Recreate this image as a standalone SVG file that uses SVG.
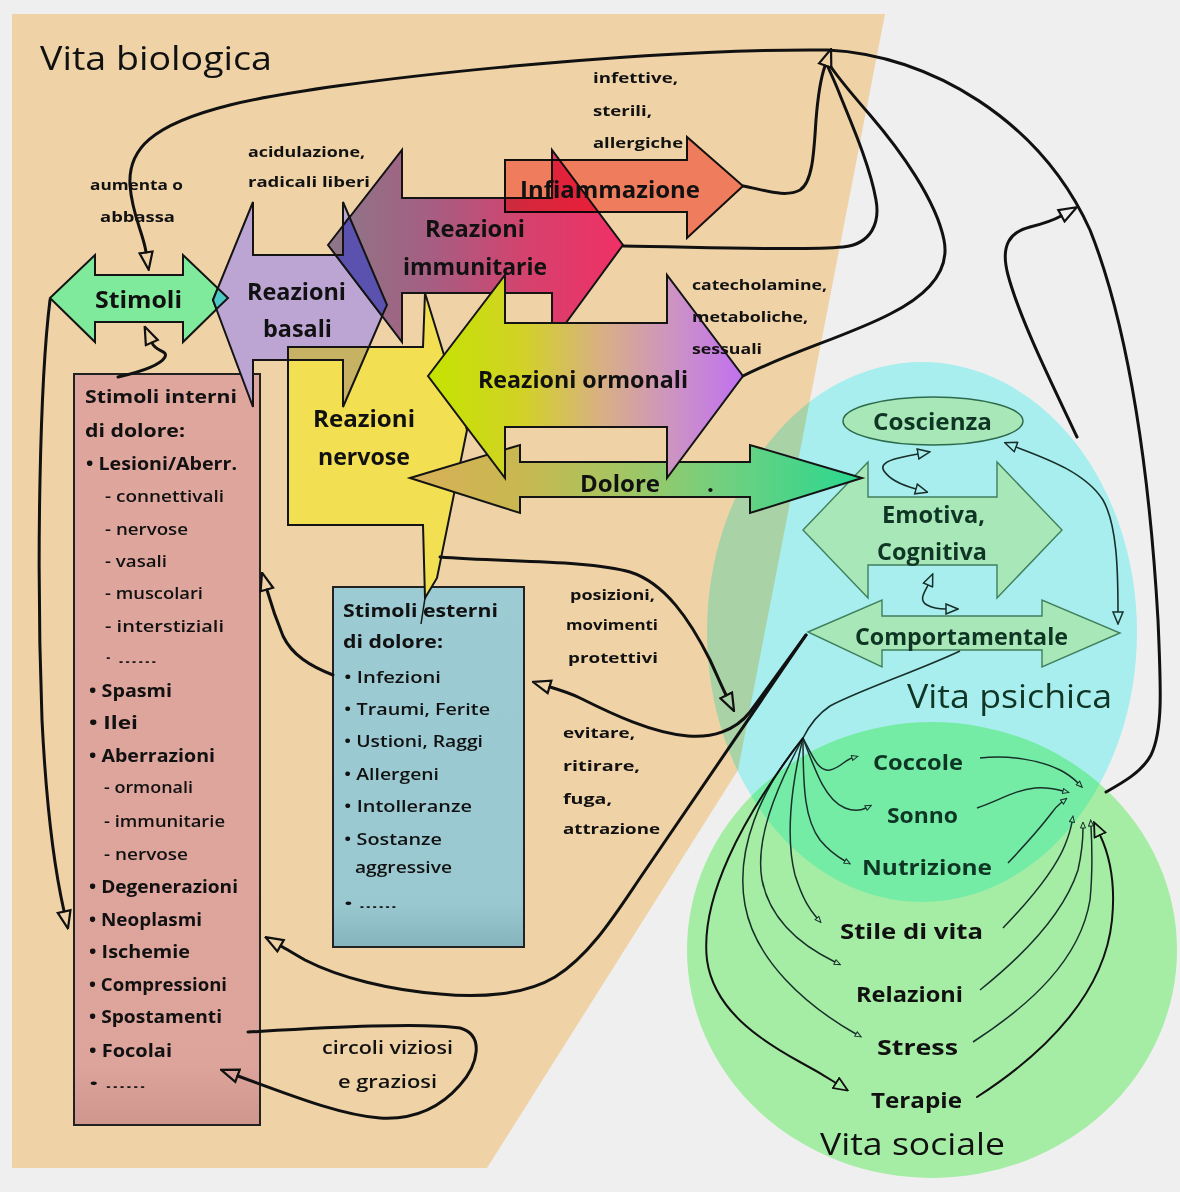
<svg xmlns="http://www.w3.org/2000/svg" width="1180" height="1192" viewBox="0 0 1180 1192">
<defs>
<style>
text{font-family:'Open Sans','DejaVu Sans',sans-serif;fill:#111}
.big{font-size:24px;font-weight:700}
.soc{font-size:22px;font-weight:700}
.ttl{font-size:32px;font-weight:500}
.sm{font-size:15px;font-weight:700}
.li{font-size:17px;font-weight:700}
.sub{font-size:17px;font-weight:600}
.dots{font-size:12px;font-weight:600}
.psy{fill:#0f3524}
.shape{stroke:#141414;stroke-width:2;stroke-linejoin:miter}
.pshape{fill:#a8e8b8;stroke:#3f7f5c;stroke-width:1.4}
.ln{fill:none;stroke:#111;stroke-width:3;stroke-linecap:round}
.thin{fill:none;stroke:#17302a;stroke-width:1.5}
.mid{fill:none;stroke:#17302a;stroke-width:1.6}
</style>
<linearGradient id="gImm" gradientUnits="userSpaceOnUse" x1="328" y1="0" x2="623" y2="0">
<stop offset="0" stop-color="#8c7888"/><stop offset="0.35" stop-color="#a65e82"/><stop offset="0.7" stop-color="#d8406c"/><stop offset="1" stop-color="#f03066"/>
</linearGradient>
<linearGradient id="gOrm" gradientUnits="userSpaceOnUse" x1="428" y1="0" x2="743" y2="0">
<stop offset="0" stop-color="#c4e400"/><stop offset="0.3" stop-color="#d2d226"/><stop offset="0.55" stop-color="#d8b084"/><stop offset="0.8" stop-color="#cc90c8"/><stop offset="1" stop-color="#c070f0"/>
</linearGradient>
<linearGradient id="gDol" gradientUnits="userSpaceOnUse" x1="410" y1="0" x2="862" y2="0">
<stop offset="0" stop-color="#d8b058"/><stop offset="0.25" stop-color="#c8b850"/><stop offset="0.45" stop-color="#a8c460"/><stop offset="0.7" stop-color="#70d080"/><stop offset="1" stop-color="#28d890"/>
</linearGradient>
<linearGradient id="gInt" x1="0" y1="0" x2="0" y2="1">
<stop offset="0" stop-color="#dfa69e"/><stop offset="0.92" stop-color="#dda49c"/><stop offset="1" stop-color="#cf968e"/>
</linearGradient>
<linearGradient id="gEst" x1="0" y1="0" x2="0" y2="1">
<stop offset="0" stop-color="#9ccbd3"/><stop offset="0.88" stop-color="#99c8d0"/><stop offset="1" stop-color="#86b4be"/>
</linearGradient>
<marker id="ah" viewBox="0 0 20 16" refX="1" refY="8" markerWidth="20" markerHeight="16" markerUnits="userSpaceOnUse" orient="auto">
<path d="M1.5,1.5 L19,8 L1.5,14.5 Z" fill="none" stroke="#111" stroke-width="2.2"/>
</marker>
<marker id="am" viewBox="0 0 14 12" refX="1" refY="6" markerWidth="14" markerHeight="12" markerUnits="userSpaceOnUse" orient="auto-start-reverse">
<path d="M1,1 L13,6 L1,11 Z" fill="none" stroke="#17302a" stroke-width="1.5"/>
</marker>
<marker id="ab" viewBox="0 0 16 14" refX="1" refY="7" markerWidth="16" markerHeight="14" markerUnits="userSpaceOnUse" orient="auto">
<path d="M1,1 L15,7 L1,13 Z" fill="none" stroke="#111" stroke-width="1.8"/>
</marker>
<marker id="as" viewBox="0 0 8 7" refX="1" refY="3.5" markerWidth="8" markerHeight="7" markerUnits="userSpaceOnUse" orient="auto">
<path d="M1,1 L7,3.5 L1,6 Z" fill="none" stroke="#17302a" stroke-width="1"/>
</marker>
</defs>

<rect width="1180" height="1192" fill="#efefef"/>

<g id="vita-biologica">
<polygon points="12,14 885,14 738,770 487,1168 12,1168" fill="#efd3a7"/>
<text class="ttl" x="40" y="70" textLength="232" lengthAdjust="spacingAndGlyphs">Vita biologica</text>
</g>
<g id="vita-psichica">
<ellipse cx="922" cy="632" rx="215" ry="270" fill="#b4feff" style="mix-blend-mode:multiply"/>
</g>
<g id="vita-sociale">
<ellipse cx="932" cy="950" rx="245" ry="228" fill="#b0fdb0" style="mix-blend-mode:multiply"/>
</g>

<g id="stimoli-interni">
<rect x="74" y="374" width="186" height="751" fill="url(#gInt)" stroke="#222" stroke-width="2"/>
<text class="li" x="85" y="403" textLength="152" lengthAdjust="spacingAndGlyphs">Stimoli interni</text>
<text class="li" x="85" y="437" textLength="100" lengthAdjust="spacingAndGlyphs">di dolore:</text>
<text class="li" x="86" y="470" textLength="151" lengthAdjust="spacingAndGlyphs">• Lesioni/Aberr.</text>
<text class="sub" x="105" y="502" textLength="119" lengthAdjust="spacingAndGlyphs">- connettivali</text>
<text class="sub" x="105" y="535" textLength="83" lengthAdjust="spacingAndGlyphs">- nervose</text>
<text class="sub" x="105" y="567" textLength="62" lengthAdjust="spacingAndGlyphs">- vasali</text>
<text class="sub" x="105" y="599" textLength="98" lengthAdjust="spacingAndGlyphs">- muscolari</text>
<text class="sub" x="105" y="632" textLength="119" lengthAdjust="spacingAndGlyphs">- interstiziali</text>
<text class="dots" x="105" y="663" textLength="52" lengthAdjust="spacingAndGlyphs">· ……</text>
<text class="li" x="89" y="697" textLength="83" lengthAdjust="spacingAndGlyphs">• Spasmi</text>
<text class="li" x="89" y="729" textLength="49" lengthAdjust="spacingAndGlyphs">• Ilei</text>
<text class="li" x="89" y="762" textLength="126" lengthAdjust="spacingAndGlyphs">• Aberrazioni</text>
<text class="sub" x="104" y="793" textLength="89" lengthAdjust="spacingAndGlyphs">- ormonali</text>
<text class="sub" x="104" y="827" textLength="121" lengthAdjust="spacingAndGlyphs">- immunitarie</text>
<text class="sub" x="104" y="860" textLength="84" lengthAdjust="spacingAndGlyphs">- nervose</text>
<text class="li" x="89" y="893" textLength="149" lengthAdjust="spacingAndGlyphs">• Degenerazioni</text>
<text class="li" x="89" y="926" textLength="113" lengthAdjust="spacingAndGlyphs">• Neoplasmi</text>
<text class="li" x="89" y="958" textLength="101" lengthAdjust="spacingAndGlyphs">• Ischemie</text>
<text class="li" x="89" y="991" textLength="138" lengthAdjust="spacingAndGlyphs">• Compressioni</text>
<text class="li" x="89" y="1023" textLength="133" lengthAdjust="spacingAndGlyphs">• Spostamenti</text>
<text class="li" x="89" y="1057" textLength="83" lengthAdjust="spacingAndGlyphs">• Focolai</text>
<text class="dots" x="89" y="1088" textLength="57" lengthAdjust="spacingAndGlyphs">• ……</text>
</g>

<g id="stimoli-esterni">
<rect x="333" y="587" width="191" height="360" fill="url(#gEst)" stroke="#222" stroke-width="2"/>
<text class="li" x="343" y="617" textLength="155" lengthAdjust="spacingAndGlyphs">Stimoli esterni</text>
<text class="li" x="343" y="648" textLength="100" lengthAdjust="spacingAndGlyphs">di dolore:</text>
<text class="sub" x="344" y="683" textLength="97" lengthAdjust="spacingAndGlyphs">• Infezioni</text>
<text class="sub" x="344" y="715" textLength="146" lengthAdjust="spacingAndGlyphs">• Traumi, Ferite</text>
<text class="sub" x="344" y="747" textLength="139" lengthAdjust="spacingAndGlyphs">• Ustioni, Raggi</text>
<text class="sub" x="344" y="780" textLength="95" lengthAdjust="spacingAndGlyphs">• Allergeni</text>
<text class="sub" x="344" y="812" textLength="128" lengthAdjust="spacingAndGlyphs">• Intolleranze</text>
<text class="sub" x="344" y="845" textLength="98" lengthAdjust="spacingAndGlyphs">• Sostanze</text>
<text class="sub" x="355" y="873" textLength="97" lengthAdjust="spacingAndGlyphs">aggressive</text>
<text class="dots" x="344" y="908" textLength="53" lengthAdjust="spacingAndGlyphs">• ……</text>
</g>

<g id="stimoli">
<polygon class="shape" points="50,298 95,255 95,275 183,275 183,255 228,298 183,342 183,322 95,322 95,342" fill="#80ea9c"/>
<text class="big" x="95" y="308" textLength="87" lengthAdjust="spacingAndGlyphs">Stimoli</text>
</g>

<g id="reazioni-basali">
<polygon class="shape" points="213,300 253,202 253,255 343,255 343,202 387,305 343,407 343,360 253,360 253,407" fill="#bda5d3"/>
<polygon class="shape" points="213,300 217.8,288.2 228,298 216.5,309" fill="#4ec8c4"/>
<text class="big" x="247" y="300" textLength="99" lengthAdjust="spacingAndGlyphs">Reazioni</text>
<text class="big" x="263" y="337" textLength="69" lengthAdjust="spacingAndGlyphs">basali</text>
</g>

<g id="reazioni-immunitarie">
<polygon class="shape" points="328,245 402,150 402,198 552,198 552,150 623,245 552,342 552,293 402,293 402,342" fill="url(#gImm)"/>
<polygon class="shape" points="335.6,255 343,255 343,225.7 349.5,217 387,305 382,315.8" fill="#5a52ae"/>
<text class="big" x="425" y="237" textLength="100" lengthAdjust="spacingAndGlyphs">Reazioni</text>
<text class="big" x="403" y="275" textLength="144" lengthAdjust="spacingAndGlyphs">immunitarie</text>
</g>

<g id="reazioni-nervose">
<polygon class="shape" points="288,347 423,347 425,293 467,430 437,578 425,598 423,525 288,525" fill="#f2e052"/>
<polygon class="shape" points="288,347 368.9,347 343,407 343,360 288,360" fill="#c6b262"/>
<line x1="425" y1="598" x2="421" y2="624" stroke="#141414" stroke-width="1.5"/>
<text class="big" x="313" y="427" textLength="102" lengthAdjust="spacingAndGlyphs">Reazioni</text>
<text class="big" x="318" y="465" textLength="92" lengthAdjust="spacingAndGlyphs">nervose</text>
</g>

<g id="infiammazione">
<polygon class="shape" points="505,160 687,160 687,137 743,186 687,238 687,212 505,212" fill="#ff968c" style="mix-blend-mode:multiply"/>
<text class="big" x="520" y="198" textLength="180" lengthAdjust="spacingAndGlyphs">Infiammazione</text>
</g>

<g id="emotiva-cognitiva">
<polygon class="pshape" points="803,530 868,462 868,497 997,497 997,462 1062,530 997,598 997,565 868,565 868,598"/>
<text class="big psy" x="882" y="523" textLength="103" lengthAdjust="spacingAndGlyphs">Emotiva,</text>
<text class="big psy" x="877" y="560" textLength="110" lengthAdjust="spacingAndGlyphs">Cognitiva</text>
</g>

<g id="comportamentale">
<polygon class="pshape" points="808,632 882,600 882,616 1042,616 1042,600 1120,633 1042,667 1042,650 882,650 882,667"/>
<text class="big psy" x="855" y="645" textLength="213" lengthAdjust="spacingAndGlyphs">Comportamentale</text>
</g>

<g id="coscienza">
<ellipse cx="933" cy="421" rx="90" ry="24" fill="#a8e8b8" stroke="#2c6a4c" stroke-width="1.5"/>
<text class="big psy" x="873" y="430" textLength="119" lengthAdjust="spacingAndGlyphs">Coscienza</text>
</g>

<g id="dolore">
<polygon class="shape" points="410,478 520,445 520,462 750,462 750,445 862,478 750,513 750,497 520,497 520,513" fill="url(#gDol)"/>
<text class="big" x="580" y="492" textLength="80" lengthAdjust="spacingAndGlyphs">Dolore</text>
<text class="big" x="707" y="492">.</text>
</g>

<g id="reazioni-ormonali">
<polygon class="shape" points="428,376 505,275 505,323 667,323 667,275 743,376 667,478 667,427 505,427 505,478" fill="url(#gOrm)"/>
<text class="big" x="478" y="388" textLength="210" lengthAdjust="spacingAndGlyphs">Reazioni ormonali</text>
</g>

<g id="titoli">
<text class="ttl psy" x="907" y="708" textLength="205" lengthAdjust="spacingAndGlyphs">Vita psichica</text>
<text class="ttl" x="820" y="1155" textLength="185" lengthAdjust="spacingAndGlyphs" style="font-size:31px">Vita sociale</text>
</g>

<g id="sociale">
<text class="soc psy" x="873" y="770" textLength="90" lengthAdjust="spacingAndGlyphs">Coccole</text>
<text class="soc psy" x="887" y="823" textLength="71" lengthAdjust="spacingAndGlyphs">Sonno</text>
<text class="soc psy" x="862" y="875" textLength="130" lengthAdjust="spacingAndGlyphs">Nutrizione</text>
<text class="soc" x="840" y="939" textLength="143" lengthAdjust="spacingAndGlyphs">Stile di vita</text>
<text class="soc" x="856" y="1002" textLength="107" lengthAdjust="spacingAndGlyphs">Relazioni</text>
<text class="soc" x="877" y="1055" textLength="81" lengthAdjust="spacingAndGlyphs">Stress</text>
<text class="soc" x="871" y="1108" textLength="91" lengthAdjust="spacingAndGlyphs">Terapie</text>
</g>

<g id="connectors">
<path class="ln" d="M1106,792 C1122,783 1142,772 1151,755 C1163,730 1161,690 1158,620 C1150,480 1130,330 1090,230 C1040,120 930,55 828,50 C650,48 330,80 230,105 C150,125 128,150 130,185 C132,215 143,232 146,252" marker-end="url(#ah)"/>
<path class="ln" d="M743,186 C765,190 785,198 800,190 C813,182 814,150 816,120 C818,95 820,80 825,66" marker-end="url(#ah)"/>
<path class="ln" d="M623,246 C700,247 800,251 843,247 C872,244 880,222 876,200 C870,165 850,120 840,95 C835,82 831,74 828,67"/>
<path class="ln" d="M743,376 C790,352 850,335 890,314 C930,294 950,270 944,240 C936,200 900,150 870,115 C850,92 840,80 831,67"/>
<path class="ln" d="M1077,437 C1055,390 1020,320 1008,275 C1000,245 1010,232 1030,227 C1042,224 1052,221 1061,216" marker-end="url(#ah)"/>
<path class="ln" d="M50,300 C40,380 36,560 42,720 C47,820 57,880 64,911" marker-end="url(#ah)"/>
<path class="ln" d="M118,377 C140,372 160,366 165,357 C168,350 156,352 152,343" marker-end="url(#ah)"/>
<path class="ln" d="M333,675 C310,666 292,655 283,636 C276,619 271,604 267,590" marker-end="url(#ah)"/>
<path class="ln" d="M806,635 L640,878 C615,915 590,955 555,977 C525,995 480,998 440,994 C390,990 340,978 305,960 C296,955 288,950 281,946" marker-end="url(#ah)"/>
<path class="ln" d="M806,635 L750,712 C735,731 712,738 688,736 C652,733 612,714 580,698 C570,693 560,690 550,687" marker-end="url(#ah)"/>
<path class="ln" d="M440,557 C500,562 590,560 630,572 C665,583 690,620 710,660 C716,673 721,685 726,695" marker-end="url(#ah)"/>
<path class="ln" d="M248,1032 C320,1028 420,1022 460,1028 C485,1035 478,1065 460,1085 C440,1108 415,1120 380,1118 C340,1115 290,1095 238,1076" marker-end="url(#ah)"/>
<path class="mid" d="M960,651 C920,670 860,690 830,706 C815,716 808,728 803,738"/>
<path class="mid" d="M918,454 C895,458 878,462 884,471 C890,480 905,486 916,489" marker-start="url(#am)" marker-end="url(#am)"/>
<path class="mid" d="M928,585 C925,592 918,600 927,605 C934,609 940,609 946,609" marker-start="url(#am)" marker-end="url(#am)"/>
<path class="mid" d="M1016,447 C1045,458 1085,472 1103,500 C1117,525 1118,570 1118,612" marker-start="url(#am)" marker-end="url(#am)"/>
<path class="thin" d="M803,738 C812,755 818,772 830,770 C840,768 845,760 852,758" marker-end="url(#as)"/>
<path class="thin" d="M803,738 C815,770 825,800 845,808 C855,812 862,810 866,808" marker-end="url(#as)"/>
<path class="thin" d="M803,738 C803,790 805,820 820,840 C830,852 838,857 845,861" marker-end="url(#as)"/>
<path class="thin" d="M803,738 C790,790 786,840 795,875 C803,900 810,910 817,918" marker-end="url(#as)"/>
<path class="thin" d="M803,738 C775,790 755,840 762,880 C770,920 800,945 835,962" marker-end="url(#as)"/>
<path class="thin" d="M803,738 C760,790 735,850 745,905 C755,960 805,1005 856,1034" marker-end="url(#as)"/>
<path class="ln" style="stroke-width:2" d="M803,738 C740,820 700,900 707,960 C714,1010 760,1040 800,1062 C815,1070 825,1076 836,1083" marker-end="url(#ab)"/>
<path class="thin" d="M980,758 C1010,755 1040,760 1060,770 C1068,774 1073,778 1078,783" marker-end="url(#as)"/>
<path class="thin" d="M977,808 C1000,800 1015,790 1035,788 C1046,787 1055,789 1063,791" marker-end="url(#as)"/>
<path class="thin" d="M1008,863 C1025,845 1040,828 1050,815 C1054,809 1058,805 1062,802" marker-end="url(#as)"/>
<path class="thin" d="M1003,928 C1030,900 1055,870 1065,845 C1069,835 1071,828 1072,822" marker-end="url(#as)"/>
<path class="thin" d="M980,990 C1030,950 1065,910 1078,870 C1082,852 1083,838 1083,828" marker-end="url(#as)"/>
<path class="thin" d="M973,1042 C1030,1005 1080,960 1090,900 C1093,870 1092,845 1091,826" marker-end="url(#as)"/>
<path class="ln" style="stroke-width:2" d="M977,1097 C1050,1050 1105,990 1112,920 C1116,880 1108,852 1100,835" marker-end="url(#ab)"/>
</g>

<g id="etichette">
<text class="sm" x="90" y="190" textLength="93" lengthAdjust="spacingAndGlyphs">aumenta o</text>
<text class="sm" x="100" y="222" textLength="75" lengthAdjust="spacingAndGlyphs">abbassa</text>
<text class="sm" x="248" y="157" textLength="117" lengthAdjust="spacingAndGlyphs">acidulazione,</text>
<text class="sm" x="248" y="187" textLength="122" lengthAdjust="spacingAndGlyphs">radicali liberi</text>
<text class="sm" x="593" y="83" textLength="85" lengthAdjust="spacingAndGlyphs">infettive,</text>
<text class="sm" x="593" y="116" textLength="59" lengthAdjust="spacingAndGlyphs">sterili,</text>
<text class="sm" x="593" y="148" textLength="90" lengthAdjust="spacingAndGlyphs">allergiche</text>
<text class="sm" x="692" y="290" textLength="135" lengthAdjust="spacingAndGlyphs">catecholamine,</text>
<text class="sm" x="692" y="322" textLength="116" lengthAdjust="spacingAndGlyphs">metaboliche,</text>
<text class="sm" x="692" y="354" textLength="70" lengthAdjust="spacingAndGlyphs">sessuali</text>
<text class="sm" x="570" y="600" textLength="85" lengthAdjust="spacingAndGlyphs">posizioni,</text>
<text class="sm" x="566" y="630" textLength="92" lengthAdjust="spacingAndGlyphs">movimenti</text>
<text class="sm" x="568" y="663" textLength="90" lengthAdjust="spacingAndGlyphs">protettivi</text>
<text class="sm" x="563" y="738" textLength="72" lengthAdjust="spacingAndGlyphs">evitare,</text>
<text class="sm" x="563" y="771" textLength="77" lengthAdjust="spacingAndGlyphs">ritirare,</text>
<text class="sm" x="563" y="804" textLength="49" lengthAdjust="spacingAndGlyphs">fuga,</text>
<text class="sm" x="563" y="834" textLength="97" lengthAdjust="spacingAndGlyphs">attrazione</text>
<text class="sm" x="322" y="1054" textLength="131" lengthAdjust="spacingAndGlyphs" style="font-size:18px;font-weight:600">circoli viziosi</text>
<text class="sm" x="338" y="1088" textLength="99" lengthAdjust="spacingAndGlyphs" style="font-size:18px;font-weight:600">e graziosi</text>
</g>
</svg>
